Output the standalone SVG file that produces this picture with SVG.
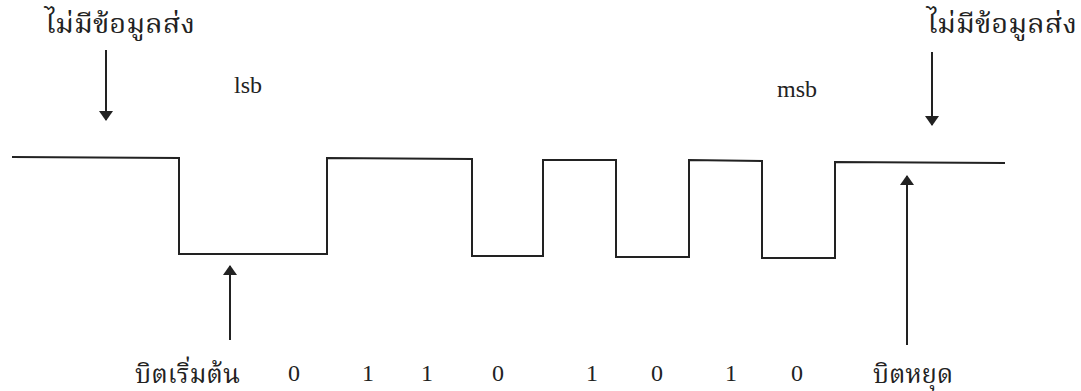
<svg xmlns="http://www.w3.org/2000/svg" width="1081" height="391" viewBox="0 0 1081 391">
<style>
.t{font-family:"Liberation Serif","Noto Serif Thai","Noto Sans Thai",serif;fill:#222;}
.th{font-size:26px;}
.lb{font-size:24px;}
.d{font-size:24px;text-anchor:middle;}
.w{fill:none;stroke:#222;stroke-width:2;stroke-linejoin:miter;}
.a{stroke:#222;stroke-width:2;fill:none;}
</style>
<defs>
<marker id="ah" viewBox="0 0 10 14" refX="9" refY="7" markerWidth="10" markerHeight="14" markerUnits="userSpaceOnUse" orient="auto">
<path d="M0,0 L10,7 L0,14 Z" fill="#222"/>
</marker>
</defs>
<g id="waveform">
<path class="w" d="M12,157 L179,158 L179,254 L327,254 L327,158 L472,159 L472,256 L543,256 L543,160 L616,160 L616,257 L689,257 L689,160 L762,161 L762,258 L835,258 L835,162 L1005,163"/>
</g>
<g id="connectors">
<line class="a" x1="106" y1="50" x2="106" y2="120" marker-end="url(#ah)"/>
<line class="a" x1="932" y1="52" x2="932" y2="125" marker-end="url(#ah)"/>
<line class="a" x1="230" y1="340" x2="230" y2="266" marker-end="url(#ah)"/>
<line class="a" x1="907" y1="345" x2="907" y2="176" marker-end="url(#ah)"/>
</g>
<g id="idle-left"><text class="t th" x="45" y="33" textLength="150" lengthAdjust="spacingAndGlyphs">ไม่มีข้อมูลส่ง</text></g>
<g id="idle-right"><text class="t th" x="927" y="33" textLength="150" lengthAdjust="spacingAndGlyphs">ไม่มีข้อมูลส่ง</text></g>
<g id="lsb"><text class="t lb" x="234" y="93">lsb</text></g>
<g id="msb"><text class="t lb" x="777" y="97">msb</text></g>
<g id="start-bit"><text class="t th" x="135" y="383" textLength="105" lengthAdjust="spacingAndGlyphs">บิตเริ่มต้น</text></g>
<g id="stop-bit"><text class="t th" x="873" y="383" textLength="80" lengthAdjust="spacingAndGlyphs">บิตหยุด</text></g>
<g id="bits">
<text class="t d" x="294" y="381">0</text>
<text class="t d" x="368" y="381">1</text>
<text class="t d" x="427" y="381">1</text>
<text class="t d" x="498" y="381">0</text>
<text class="t d" x="592" y="381">1</text>
<text class="t d" x="657" y="381">0</text>
<text class="t d" x="731" y="381">1</text>
<text class="t d" x="797" y="381">0</text>
</g>
</svg>
